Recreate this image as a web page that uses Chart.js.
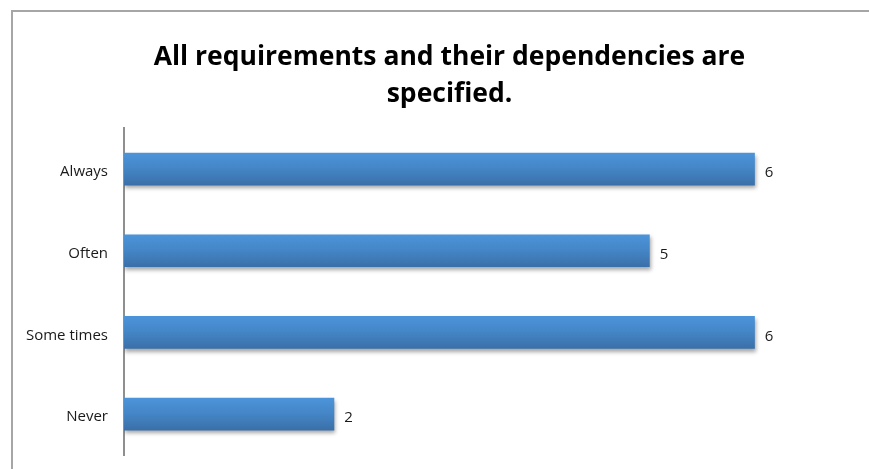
<!DOCTYPE html>
<html>
<head>
<meta charset="utf-8">
<script src="https://cdn.jsdelivr.net/npm/chart.js@4.4.1/dist/chart.umd.min.js"></script>
<style>
  html, body { margin: 0; padding: 0; background: #ffffff; }
  #wrap { width: 869px; height: 469px; position: relative; }
</style>
</head>
<body>
<div id="wrap"><canvas id="c" width="869" height="469"></canvas></div>
<script>
const categories = ["Always", "Often", "Some times", "Never"];
const counts = [6, 5, 6, 2];
const titleLines = ["All requirements and their dependencies are", "specified."];

const frame = {
  id: 'frame',
  afterLayout(chart) {
    // let category labels extend left of the (narrowed) axis box without clipping
    chart.scales.y.left = 0;
  },
  beforeDraw(chart) {
    const ctx = chart.ctx;
    ctx.save();
    ctx.fillStyle = '#ffffff';
    ctx.fillRect(0, 0, chart.width, chart.height);
    ctx.strokeStyle = '#a6a6a6';
    ctx.lineWidth = 2;
    ctx.beginPath();
    ctx.moveTo(12, chart.height);
    ctx.lineTo(12, 11);
    ctx.lineTo(chart.width, 11);
    ctx.stroke();
    ctx.restore();
  }
};

const shadow = {
  id: 'shadow',
  beforeDatasetDraw(chart) {
    const ctx = chart.ctx;
    ctx.save();
    ctx.shadowColor = 'rgba(0,0,0,0.35)';
    ctx.shadowBlur = 4;
    ctx.shadowOffsetX = 1;
    ctx.shadowOffsetY = 3;
  },
  afterDatasetDraw(chart) {
    chart.ctx.restore();
  }
};

const valueLabels = {
  id: 'valueLabels',
  afterDatasetsDraw(chart) {
    const ctx = chart.ctx;
    const meta = chart.getDatasetMeta(0);
    ctx.save();
    ctx.font = '15px "Open Sans"';
    ctx.fillStyle = '#1a1a1a';
    ctx.textAlign = 'left';
    ctx.textBaseline = 'middle';
    meta.data.forEach((bar, i) => {
      ctx.fillText(String(counts[i]), bar.x + 10, bar.y + 4);
    });
    ctx.restore();
  }
};

new Chart(document.getElementById('c'), {
  type: 'bar',
  data: {
    labels: categories,
    datasets: [{
      data: counts,
      backgroundColor(context) {
        const chart = context.chart;
        const ys = chart.scales && chart.scales.y;
        if (!chart.chartArea || !ys || context.dataIndex === undefined) return '#4583c3';
        const cy = ys.getPixelForValue(context.dataIndex);
        const h = 33;
        const g = chart.ctx.createLinearGradient(0, cy - h / 2, 0, cy + h / 2);
        g.addColorStop(0, '#4c94da');
        g.addColorStop(0.45, '#4587c8');
        g.addColorStop(1, '#3a6fa8');
        return g;
      },
      borderWidth: 0,
      categoryPercentage: 1,
      barPercentage: 0.4
    }]
  },
  options: {
    indexAxis: 'y',
    responsive: false,
    animation: false,
    devicePixelRatio: 1,
    layout: { padding: { left: 39, right: 9, top: 0, bottom: 14 } },
    plugins: {
      legend: { display: false },
      tooltip: { enabled: false },
      title: {
        display: true,
        text: titleLines,
        color: '#000000',
        font: { family: '"Open Sans"', size: 26.5, weight: 'bold', lineHeight: 1.4 },
        padding: { top: 39, bottom: 15 }
      }
    },
    scales: {
      x: {
        display: false,
        min: 0,
        max: 7
      },
      y: {
        offset: true,
        grid: { display: false, drawTicks: false },
        border: { display: true, color: '#8f8f8f', width: 2 },
        ticks: {
          color: '#1a1a1a',
          font: { family: '"Open Sans"', size: 15 },
          padding: 16,
          labelOffset: 3
        },
        afterFit(scale) {
          scale.width = 85;
          scale.paddingTop = 0;
          scale.paddingBottom = 0;
        }
      }
    }
  },
  plugins: [frame, shadow, valueLabels]
});
</script>
</body>
</html>
